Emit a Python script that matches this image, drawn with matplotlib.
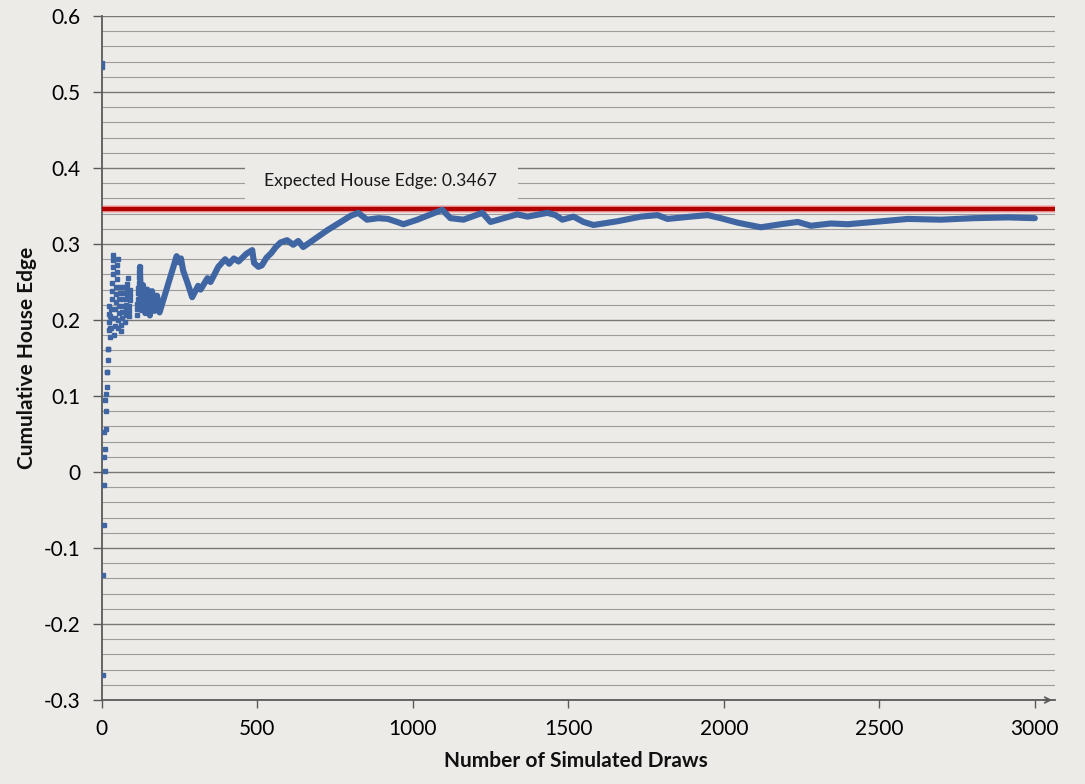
import matplotlib
matplotlib.use("Agg")
import matplotlib.pyplot as plt
from matplotlib.patches import Rectangle
from matplotlib.ticker import MultipleLocator

plt.rcParams["font.family"] = ["Lato", "DejaVu Sans"]

# early draws: individual points (draw number, cumulative edge)
early_x = [1, 2, 4, 5, 6, 7, 8, 9, 10, 11, 12, 13, 14, 15, 16, 17, 18, 19, 20, 21,
           22, 23, 24, 25, 26, 27,
           28, 29, 30, 31, 32, 33, 34, 35, 36, 37, 38,
           41, 42, 43, 44, 45, 46, 47, 48, 49, 50, 51,
           53, 54, 55, 56, 57, 58, 59,
           62, 63, 64, 65, 66, 67, 68, 69,
           76, 77, 78, 79, 80, 81, 82, 83, 84,
           87, 88, 89, 90, 91, 92,
           113, 114, 115, 116, 117, 118, 119, 120, 121, 122]
early_y = [0.538, 0.533, -0.267, -0.135, -0.070, -0.017, 0.020, 0.053, 0.095, 0.001,
           0.030, 0.057, 0.080, 0.103, 0.112, 0.131, 0.131, 0.147, 0.162, 0.162,
           0.187, 0.198, 0.208, 0.218, 0.190, 0.205,
           0.178, 0.190, 0.203, 0.215, 0.227, 0.238, 0.249, 0.260, 0.270, 0.279, 0.285,
           0.180, 0.192, 0.203, 0.214, 0.224, 0.234, 0.244, 0.254, 0.263, 0.272, 0.280,
           0.190, 0.200, 0.209, 0.218, 0.227, 0.236, 0.244,
           0.185, 0.194, 0.203, 0.211, 0.219, 0.227, 0.235, 0.243,
           0.198, 0.206, 0.213, 0.220, 0.227, 0.234, 0.241, 0.248, 0.255,
           0.205, 0.212, 0.219, 0.226, 0.233, 0.240,
           0.207, 0.214, 0.221, 0.228, 0.235, 0.242, 0.249, 0.256, 0.263, 0.270]

# later draws: the dense part of the series
draws = [123, 127, 133, 140, 147, 155, 162, 170, 178, 186, 195, 241, 248, 255, 262,
         275, 291, 310, 318, 340, 350, 375, 397, 410, 425, 440, 465, 484, 490, 504,
         515, 530, 545, 560, 575, 596, 616, 632, 648, 725, 800, 825, 853, 890, 920,
         950, 970, 1015, 1095, 1121, 1163, 1224, 1250, 1336, 1369, 1433, 1459, 1481,
         1517, 1549, 1581, 1659, 1733, 1787, 1819, 1893, 1948, 1990, 2045, 2119, 2183,
         2238, 2280, 2344, 2398, 2482, 2592, 2698, 2805, 2914, 3000]
edge = [0.270, 0.213, 0.246, 0.209, 0.240, 0.206, 0.238, 0.212, 0.232, 0.210, 0.222,
        0.284, 0.276, 0.281, 0.265, 0.250, 0.230, 0.245, 0.240, 0.255, 0.250, 0.270,
        0.280, 0.274, 0.281, 0.277, 0.287, 0.292, 0.275, 0.270, 0.272, 0.282, 0.288,
        0.296, 0.302, 0.305, 0.299, 0.304, 0.296, 0.318, 0.337, 0.341, 0.332, 0.334,
        0.333, 0.329, 0.326, 0.332, 0.345, 0.334, 0.332, 0.341, 0.329, 0.339, 0.336,
        0.341, 0.338, 0.332, 0.336, 0.329, 0.325, 0.330, 0.336, 0.338, 0.333, 0.336,
        0.338, 0.334, 0.328, 0.322, 0.326, 0.329, 0.324, 0.327, 0.326, 0.329, 0.333,
        0.332, 0.334, 0.335, 0.334]

expected_edge = 0.3467
x_ticks = [0, 500, 1000, 1500, 2000, 2500, 3000]

bg = "#EDEBE8"
blue = "#3F66A2"
axis_col = "#5a5a5a"

fig = plt.figure(figsize=(10.85, 7.84), dpi=100, facecolor=bg)
ax = fig.add_axes([0.0937, 0.1071, 0.8787, 0.8725])
ax.set_facecolor(bg)

ax.set_xlim(0, 3065)
ax.set_ylim(-0.3, 0.6)
ax.yaxis.set_major_locator(MultipleLocator(0.1))
ax.yaxis.set_minor_locator(MultipleLocator(0.02))
ax.set_xticks(x_ticks)
ax.grid(axis="y", which="major", color="#777777", linewidth=1.0, zorder=0)
ax.grid(axis="y", which="minor", color="#9c9c9c", linewidth=0.8, zorder=0)
ax.set_axisbelow(True)

for side in ["top", "right"]:
    ax.spines[side].set_visible(False)
for side in ["left", "bottom"]:
    ax.spines[side].set_color(axis_col)
    ax.spines[side].set_linewidth(1.3)

ax.tick_params(axis="y", which="major", direction="out", length=6.5, width=1,
               color=axis_col, labelsize=15, pad=9)
ax.tick_params(axis="y", which="minor", length=0)
ax.tick_params(axis="x", direction="out", length=6, width=1, color=axis_col,
               labelsize=15, pad=8)
ax.set_yticklabels([f"{v:g}" for v in ax.get_yticks()])

# label box hiding the gridlines behind the annotation
ax.add_patch(Rectangle((461, 0.356), 879, 0.054, facecolor=bg, edgecolor="none", zorder=1))
ax.text(896, 0.383, f"Expected House Edge: {expected_edge}", ha="center", va="center",
        fontsize=12.6, color="#1a1a1a", zorder=2)

ax.axhline(expected_edge, color="#f0b4b4", linewidth=5.5, zorder=2)
ax.axhline(expected_edge, color="#B30000", linewidth=3.2, zorder=3)

ax.plot(draws, edge, color=blue, linewidth=4.4, solid_joinstyle="round",
        solid_capstyle="round", zorder=4)
ax.plot(early_x, early_y, linestyle="none", marker="s", markersize=3.4,
        color=blue, zorder=4)

ax.annotate("", xy=(1.0, 0), xytext=(0.985, 0), xycoords="axes fraction",
            arrowprops=dict(arrowstyle="->", color=axis_col, lw=1.3), annotation_clip=False)

fig.text(27 / 1085, 1 - 358 / 784, "Cumulative House Edge", rotation=90, ha="center",
         va="center", fontsize=15, fontweight="bold", color="#111111")
fig.text(576 / 1085, 1 - 761 / 784, "Number of Simulated Draws", ha="center",
         va="center", fontsize=15, fontweight="bold", color="#111111")

fig.savefig("out.png", dpi=100, facecolor=bg)
